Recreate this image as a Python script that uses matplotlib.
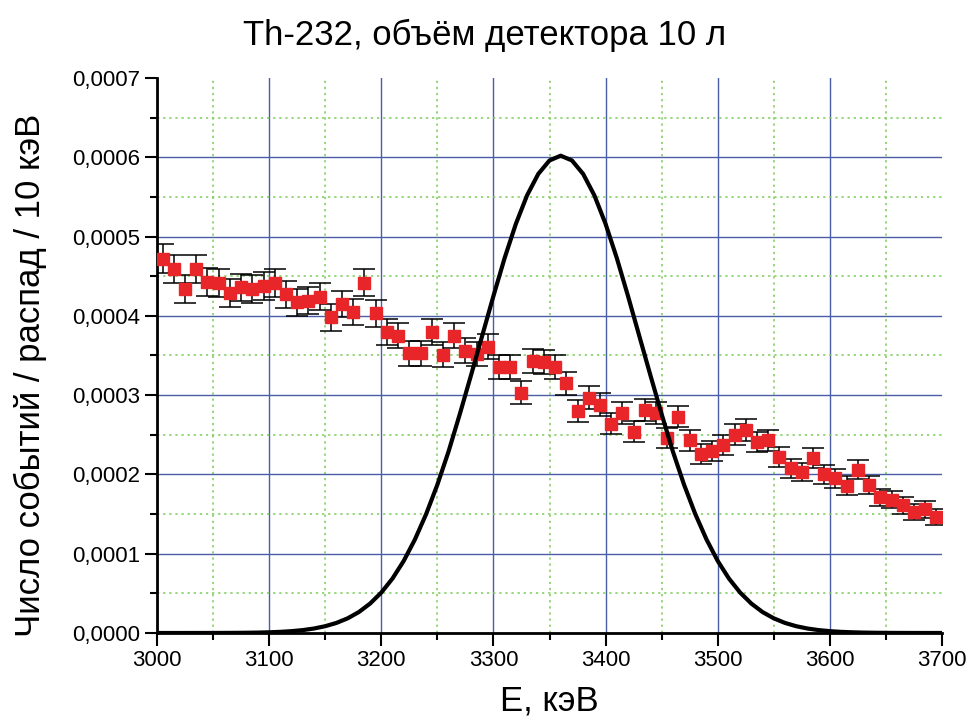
import numpy as np
import matplotlib
matplotlib.use("Agg")
import matplotlib.pyplot as plt
from matplotlib.ticker import MultipleLocator, FuncFormatter

plt.rcParams['font.family'] = ['Liberation Sans', 'DejaVu Sans']

# measured spectrum, 10 keV bins (bin centres)
energy = np.arange(3005, 3700, 10)
counts = np.array([
    4.72, 4.59, 4.34, 4.59, 4.43, 4.41, 4.29, 4.36, 4.34, 4.38,
    4.41, 4.27, 4.17, 4.19, 4.24, 3.98, 4.15, 4.05, 4.42, 4.03,
    3.80, 3.75, 3.53, 3.53, 3.80, 3.51, 3.75, 3.56, 3.52, 3.61,
    3.35, 3.36, 3.03, 3.43, 3.42, 3.35, 3.15, 2.80, 2.97, 2.88,
    2.64, 2.77, 2.54, 2.81, 2.77, 2.46, 2.73, 2.43, 2.26, 2.30,
    2.37, 2.50, 2.56, 2.41, 2.43, 2.22, 2.08, 2.03, 2.21, 2.00,
    1.95, 1.86, 2.06, 1.87, 1.71, 1.68, 1.61, 1.53, 1.56, 1.46,
]) * 1e-4
errors = np.array([
    1.80, 1.78, 1.74, 1.78, 1.75, 1.75, 1.72, 1.74, 1.74, 1.74,
    1.75, 1.72, 1.70, 1.70, 1.71, 1.66, 1.69, 1.67, 1.75, 1.67,
    1.62, 1.61, 1.57, 1.57, 1.62, 1.56, 1.61, 1.57, 1.56, 1.58,
    1.52, 1.52, 1.45, 1.54, 1.54, 1.52, 1.48, 1.39, 1.43, 1.41,
    1.35, 1.38, 1.33, 1.40, 1.38, 1.30, 1.37, 1.29, 1.25, 1.26,
    1.28, 1.31, 1.33, 1.29, 1.29, 1.24, 1.20, 1.19, 1.23, 1.17,
    1.16, 1.14, 1.19, 1.14, 1.09, 1.08, 1.06, 1.03, 1.04, 1.00,
]) * 1e-5

# peak curve
peak_e = np.arange(3000, 3701, 10)
peak_v = np.array([
    0.0000, 0.0001, 0.0001, 0.0002, 0.0003, 0.0006, 0.0010, 0.0018,
    0.0031, 0.0053, 0.0089, 0.0145, 0.0233, 0.0366, 0.0565, 0.0857,
    0.127, 0.185, 0.264, 0.371, 0.510, 0.687, 0.909, 1.18,
    1.50, 1.87, 2.29, 2.76, 3.25, 3.75, 4.25, 4.73,
    5.16, 5.52, 5.79, 5.96, 6.02, 5.96, 5.79, 5.52,
    5.16, 4.73, 4.25, 3.75, 3.25, 2.76, 2.29, 1.87,
    1.50, 1.18, 0.909, 0.687, 0.510, 0.371, 0.264, 0.185,
    0.127, 0.0857, 0.0565, 0.0366, 0.0233, 0.0145, 0.0089, 0.0053,
    0.0031, 0.0018, 0.0010, 0.0006, 0.0003, 0.0002, 0.0001,
]) * 1e-4

fig = plt.figure(figsize=(9.7, 7.19), dpi=100)
ax = fig.add_axes([157 / 970, 86 / 719, 785 / 970, 555 / 719])

ax.errorbar(energy, counts, yerr=errors, fmt="s", color="#e8262a",
            markersize=8.5, mec="#e8262a", ecolor="black",
            elinewidth=1.1, capsize=8, capthick=1.1, zorder=3)
ax.plot(peak_e, peak_v, color="black", linewidth=3.0, zorder=4)

ax.set_xlim(3000, 3700)
ax.set_ylim(0, 0.0007)
ax.xaxis.set_major_locator(MultipleLocator(100))
ax.xaxis.set_minor_locator(MultipleLocator(50))
ax.yaxis.set_major_locator(MultipleLocator(0.0001))
ax.yaxis.set_minor_locator(MultipleLocator(0.00005))
ax.yaxis.set_major_formatter(FuncFormatter(lambda v, p: f"{v:.4f}".replace(".", ",")))

ax.grid(which="major", color="#4a5ea8", linewidth=1.0)
ax.grid(which="minor", color="#7ccc5a", linestyle=(0, (1.5, 2.5)), linewidth=1.1)
ax.set_axisbelow(True)

for side in ["top", "right"]:
    ax.spines[side].set_visible(False)
for side in ["left", "bottom"]:
    ax.spines[side].set_linewidth(2)
ax.tick_params(which="major", direction="out", length=9, width=1.5,
               labelsize=16, pad=3)
ax.tick_params(which="minor", direction="out", length=5, width=1.5)

fig.canvas.draw()
# no grid lines on the open top/right edges
for t in ax.yaxis.get_major_ticks():
    if abs(t.get_loc() - 0.0007) < 1e-9:
        t.gridline.set_visible(False)
for t in ax.xaxis.get_major_ticks():
    if abs(t.get_loc() - 3700) < 1e-6:
        t.gridline.set_visible(False)

ax.set_xlabel("E, кэВ", fontsize=25, labelpad=10)
ax.set_ylabel("Число событий / распад / 10 кэВ", fontsize=25)
ax.yaxis.set_label_coords(-0.14, 0.465)
fig.text(0.5, 1 - 35 / 719, "Th-232, объём детектора 10 л",
         ha="center", va="center", fontsize=25)

fig.savefig("out.png", dpi=100)
